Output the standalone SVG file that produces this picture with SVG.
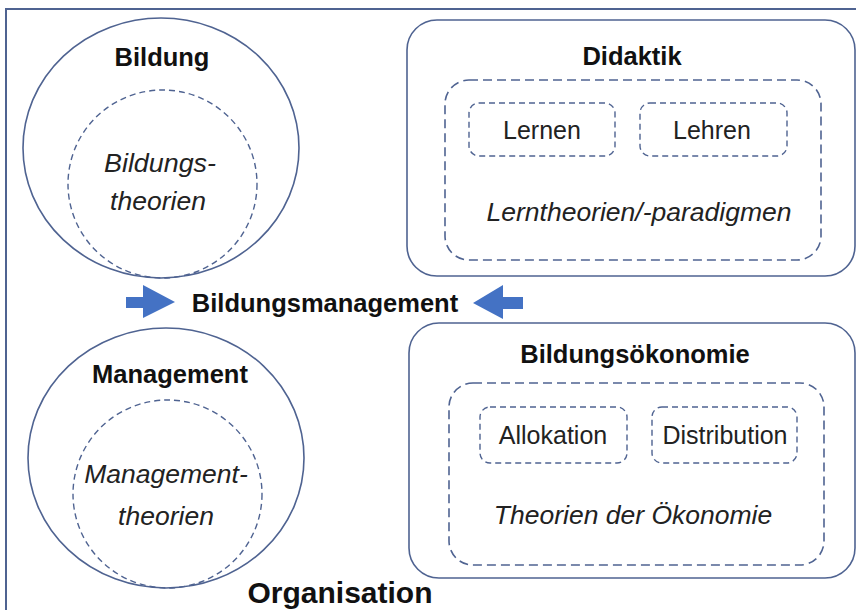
<svg xmlns="http://www.w3.org/2000/svg" width="856" height="610" viewBox="0 0 856 610">
<style>
.solid{fill:none;stroke:#4f6391;stroke-width:1.6}
.dash{fill:none;stroke:#4f6391;stroke-width:1.6;stroke-dasharray:9 5}
.dash2{fill:none;stroke:#4f6391;stroke-width:1.4;stroke-dasharray:6 4}
.b{font-family:"Liberation Sans",Arial,sans-serif;font-weight:bold;font-size:25.5px;fill:#111;text-anchor:middle}
.i{font-family:"Liberation Sans",Arial,sans-serif;font-style:italic;font-size:26.5px;fill:#222;text-anchor:middle}
.n{font-family:"Liberation Sans",Arial,sans-serif;font-size:25px;fill:#222;text-anchor:middle}
.arrow{fill:#4472c4}
</style>
<rect x="0" y="0" width="856" height="610" fill="#fff"/>
<rect id="organisation-frame" x="6" y="9" width="870" height="620" fill="none" stroke="#4f6391" stroke-width="2"/>

<g id="bildung">
<ellipse cx="161" cy="148" rx="138" ry="130" class="solid"/>
<ellipse cx="162.5" cy="184" rx="94.5" ry="94" class="dash2"/>
<text x="162" y="66" class="b">Bildung</text>
<text x="160" y="172" class="i" textLength="112" lengthAdjust="spacingAndGlyphs">Bildungs-</text>
<text x="158" y="210" class="i">theorien</text>
</g>

<g id="management">
<ellipse cx="166" cy="458" rx="138" ry="130" class="solid"/>
<ellipse cx="167.5" cy="494" rx="94.5" ry="94" class="dash2"/>
<text x="170" y="383" class="b">Management</text>
<text x="166" y="483" class="i">Management-</text>
<text x="166" y="525" class="i">theorien</text>
</g>

<g id="didaktik">
<rect x="407" y="20" width="448" height="256" rx="30" class="solid"/>
<rect x="445" y="80" width="376" height="180" rx="24" class="dash"/>
<text x="632" y="65" class="b">Didaktik</text>
<rect x="469" y="103" width="146" height="53" rx="10" class="dash2"/>
<text x="542" y="139" class="n">Lernen</text>
<rect x="640" y="103" width="147" height="53" rx="10" class="dash2"/>
<text x="712" y="139" class="n">Lehren</text>
<text x="639" y="221" class="i">Lerntheorien/-paradigmen</text>
</g>

<g id="bildungsoekonomie">
<rect x="409" y="323" width="446" height="255" rx="30" class="solid"/>
<rect x="449" y="383" width="375" height="182" rx="24" class="dash"/>
<text x="635" y="363" class="b">Bildungsökonomie</text>
<rect x="480" y="407" width="147" height="56" rx="10" class="dash2"/>
<text x="553" y="444" class="n">Allokation</text>
<rect x="652" y="407" width="145" height="56" rx="10" class="dash2"/>
<text x="725" y="444" class="n">Distribution</text>
<text x="633" y="524" class="i">Theorien der Ökonomie</text>
</g>

<g id="bildungsmanagement">
<text x="325" y="312" class="b">Bildungsmanagement</text>
</g>

<g id="organisation">
<text x="340" y="603" class="b" style="font-size:30px">Organisation</text>
</g>

<g id="connectors">
<polygon class="arrow" points="126,297 143,297 143,285 175,302 143,318 143,308 126,308"/>
<polygon class="arrow" points="523,297 503,297 503,285 473,303 503,319 503,309 523,309"/>
</g>
</svg>
